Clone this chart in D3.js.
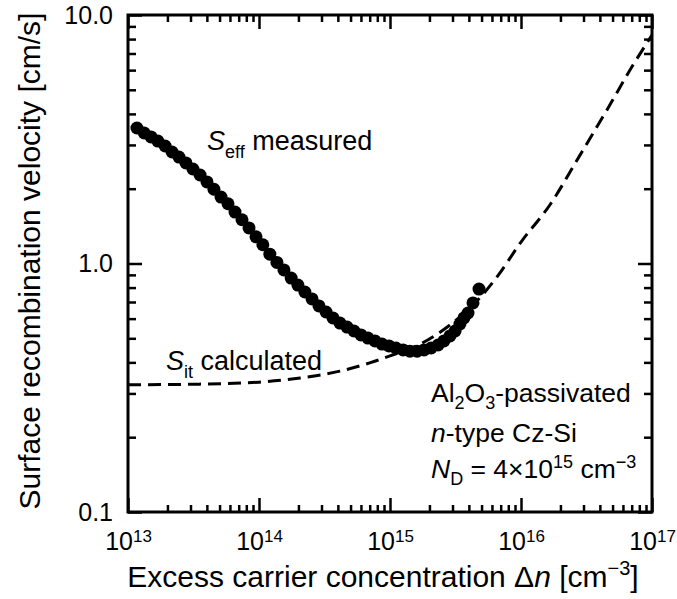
<!DOCTYPE html>
<html lang="en">
<head>
    <meta charset="UTF-8" />
    <title>Surface recombination velocity</title>
    <script src="https://d3js.org/d3.v7.min.js"></script>
    <style>
        body {
            margin: 0;
            background: #fff;
        }
        svg {
            font-family: "Liberation Sans", Arial, sans-serif;
        }
        .tick line {
            stroke: #000;
            stroke-width: 2.5;
        }
        .tick text {
            fill: #000;
            font-size: 25px;
        }
        .domain {
            display: none;
        }
    </style>
</head>
<body>
    <svg width="677" height="599"></svg>

    <script>
        // measured S_eff
        const dnMeasured = [
            1.17e13, 1.33e13, 1.50e13, 1.69e13, 1.92e13, 2.17e13, 2.45e13, 2.77e13,
            3.13e13, 3.55e13, 4.01e13, 4.53e13, 5.13e13, 5.80e13, 6.56e13, 7.42e13,
            8.39e13, 9.49e13, 1.07e14, 1.21e14, 1.37e14, 1.55e14, 1.76e14, 1.98e14,
            2.24e14, 2.54e14, 2.87e14, 3.25e14, 3.67e14, 4.15e14, 4.70e14, 5.31e14,
            6.01e14, 6.79e14, 7.68e14, 8.69e14, 9.83e14, 1.11e15, 1.26e15, 1.42e15,
            1.61e15, 1.82e15, 2.06e15, 2.33e15, 2.58e15, 2.87e15, 3.14e15, 3.42e15,
            3.67e15, 3.94e15, 4.30e15, 4.78e15
        ];
        const sMeasured = [
            3.51, 3.35, 3.23, 3.11, 2.97, 2.81, 2.68, 2.54,
            2.40, 2.27, 2.13, 1.99, 1.85, 1.74, 1.61, 1.50,
            1.39, 1.28, 1.19, 1.09, 1.01, 0.942, 0.874, 0.819,
            0.768, 0.720, 0.675, 0.638, 0.604, 0.576, 0.555, 0.535,
            0.516, 0.501, 0.488, 0.474, 0.466, 0.457, 0.449, 0.444,
            0.444, 0.449, 0.457, 0.470, 0.488, 0.511, 0.535, 0.571,
            0.604, 0.632, 0.694, 0.789
        ];

        // calculated S_it (dashed)
        const dnCalc = [1e13, 3.5e13, 1e14, 2.06e14, 4.15e14, 7.0e14, 1e15, 1.7e15,
            2.87e15, 4.46e15, 6.56e15, 1e16, 1.66e16, 2.82e16, 4.53e16, 7.16e16, 1e17];
        const sCalc = [0.325, 0.327, 0.333, 0.346, 0.369, 0.398, 0.425, 0.474,
            0.566, 0.694, 0.883, 1.22, 1.72, 2.73, 4.15, 6.29, 8.3];

        const xMajor = [1e13, 1e14, 1e15, 1e16, 1e17];
        const xExp = ["13", "14", "15", "16", "17"];
        const yMajor = [0.1, 1, 10];
        const yLabels = ["0.1", "1.0", "10.0"];

        const svg = d3.select("svg");
        const margin = { top: 15, left: 128 };
        const width = 524;
        const height = 497;

        const g = svg.append("g")
            .attr("transform", `translate(${margin.left},${margin.top})`);

        const x = d3.scaleLog().domain([1e13, 1e17]).range([0, width]);
        const y = d3.scaleLog().domain([0.1, 10]).range([height, 0]);

        const xMinor = d3.range(13, 17).flatMap(e => d3.range(2, 10).map(m => m * Math.pow(10, e)));
        const yMinor = d3.range(-1, 1).flatMap(e => d3.range(2, 10).map(m => m * Math.pow(10, e)));

        // bottom axis with labels
        const bottom = g.append("g")
            .attr("transform", `translate(0,${height})`)
            .call(d3.axisBottom(x).tickValues(xMajor).tickSize(-14).tickSizeOuter(0)
                .tickPadding(20).tickFormat(() => ""));
        bottom.selectAll(".tick text").each(function (d, i) {
            const t = d3.select(this);
            t.text("10");
            t.append("tspan").attr("dy", -8).attr("font-size", "17px").text(xExp[i]);
        });
        g.append("g")
            .attr("transform", `translate(0,${height})`)
            .call(d3.axisBottom(x).tickValues(xMinor).tickSize(-7).tickSizeOuter(0).tickFormat(() => ""));

        // top axis (mirror)
        g.append("g")
            .call(d3.axisTop(x).tickValues(xMajor).tickSize(-14).tickSizeOuter(0).tickFormat(() => ""));
        g.append("g")
            .call(d3.axisTop(x).tickValues(xMinor).tickSize(-7).tickSizeOuter(0).tickFormat(() => ""));

        // left axis with labels
        g.append("g")
            .call(d3.axisLeft(y).tickValues(yMajor).tickSize(-14).tickSizeOuter(0)
                .tickPadding(15).tickFormat((d, i) => yLabels[i]));
        g.append("g")
            .call(d3.axisLeft(y).tickValues(yMinor).tickSize(-8).tickSizeOuter(0).tickFormat(() => ""));

        // right axis (mirror)
        g.append("g")
            .attr("transform", `translate(${width},0)`)
            .call(d3.axisRight(y).tickValues(yMajor).tickSize(-14).tickSizeOuter(0).tickFormat(() => ""));
        g.append("g")
            .attr("transform", `translate(${width},0)`)
            .call(d3.axisRight(y).tickValues(yMinor).tickSize(-8).tickSizeOuter(0).tickFormat(() => ""));

        // frame
        g.append("rect")
            .attr("width", width)
            .attr("height", height)
            .attr("fill", "none")
            .attr("stroke", "#000")
            .attr("stroke-width", 3);

        svg.append("clipPath").attr("id", "plot-clip")
            .append("rect").attr("width", width).attr("height", height);

        // dashed S_it
        const calc = dnCalc.map((d, i) => [d, sCalc[i]]);
        const line = d3.line()
            .x(d => x(d[0]))
            .y(d => y(d[1]))
            .curve(d3.curveMonotoneX);

        g.append("path")
            .datum(calc)
            .attr("clip-path", "url(#plot-clip)")
            .attr("d", line)
            .attr("fill", "none")
            .attr("stroke", "#000")
            .attr("stroke-width", 3)
            .attr("stroke-dasharray", "13,7");

        // measured points
        const meas = dnMeasured.map((d, i) => [d, sMeasured[i]]);
        g.selectAll("circle")
            .data(meas)
            .enter()
            .append("circle")
            .attr("cx", d => x(d[0]))
            .attr("cy", d => y(d[1]))
            .attr("r", 6.5)
            .attr("fill", "#000");

        // annotations
        const seff = svg.append("text").attr("x", 207).attr("y", 150).attr("font-size", "27px");
        seff.append("tspan").attr("font-style", "italic").text("S");
        seff.append("tspan").attr("font-size", "18px").attr("dy", 8).text("eff");
        seff.append("tspan").attr("dy", -8).text(" measured");

        const sit = svg.append("text").attr("x", 166).attr("y", 370).attr("font-size", "27px");
        sit.append("tspan").attr("font-style", "italic").text("S");
        sit.append("tspan").attr("font-size", "18px").attr("dy", 8).text("it");
        sit.append("tspan").attr("dy", -8).text(" calculated");

        const info = svg.append("g").attr("font-size", "26.5px");
        const l1 = info.append("text").attr("x", 431).attr("y", 402);
        l1.append("tspan").text("Al");
        l1.append("tspan").attr("font-size", "18px").attr("dy", 7).text("2");
        l1.append("tspan").attr("dy", -7).text("O");
        l1.append("tspan").attr("font-size", "18px").attr("dy", 7).text("3");
        l1.append("tspan").attr("dy", -7).text("-passivated");

        const l2 = info.append("text").attr("x", 431).attr("y", 442);
        l2.append("tspan").attr("font-style", "italic").text("n");
        l2.append("tspan").text("-type Cz-Si");

        const l3 = info.append("text").attr("x", 431).attr("y", 478);
        l3.append("tspan").attr("font-style", "italic").text("N");
        l3.append("tspan").attr("font-size", "18px").attr("dy", 7).text("D");
        l3.append("tspan").attr("dy", -7).text(" = 4×10");
        l3.append("tspan").attr("font-size", "18px").attr("dy", -10).text("15");
        l3.append("tspan").attr("dy", 10).text(" cm");
        l3.append("tspan").attr("font-size", "18px").attr("dy", -10).text("−3");

        // axis titles
        const xt = svg.append("text")
            .attr("x", 383).attr("y", 587)
            .attr("text-anchor", "middle")
            .attr("font-size", "30px");
        xt.append("tspan").text("Excess carrier concentration Δ");
        xt.append("tspan").attr("font-style", "italic").text("n");
        xt.append("tspan").text(" [cm");
        xt.append("tspan").attr("font-size", "20px").attr("dy", -12).text("−3");
        xt.append("tspan").attr("dy", 12).text("]");

        svg.append("text")
            .attr("transform", "translate(40,261) rotate(-90)")
            .attr("text-anchor", "middle")
            .attr("font-size", "30px")
            .text("Surface recombination velocity [cm/s]");
    </script>
</body>
</html>
